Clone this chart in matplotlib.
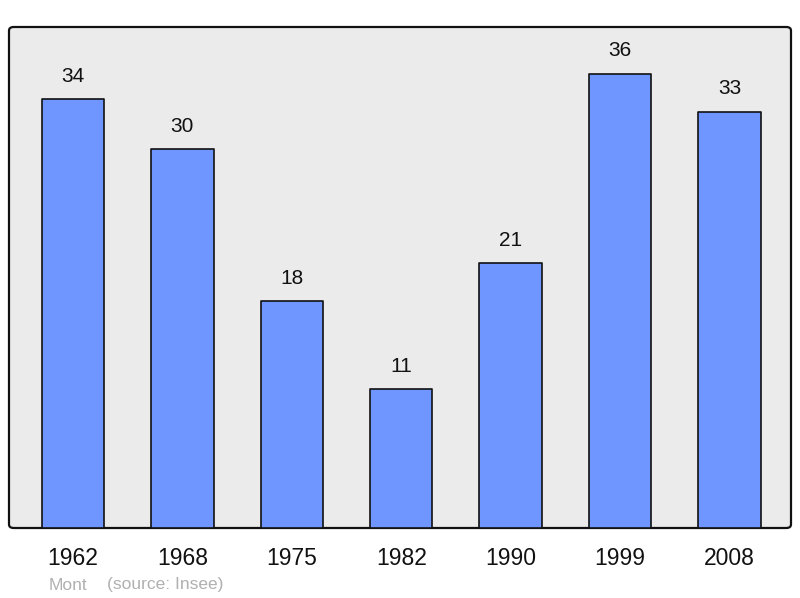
import matplotlib
matplotlib.use("Agg")
import matplotlib.pyplot as plt
from matplotlib.patches import FancyBboxPatch

years = ["1962", "1968", "1975", "1982", "1990", "1999", "2008"]
population = [34, 30, 18, 11, 21, 36, 33]
commune = "Mont"
source = "(source: Insee)"

plt.rcParams['font.family'] = ['Liberation Sans', 'DejaVu Sans']

fig = plt.figure(figsize=(8, 5.98), dpi=100)
L, R = 9 / 800, 791 / 800
B, T = (598 - 528) / 598, (598 - 27) / 598
ax = fig.add_axes([L, B, R - L, T - B])
ax.set_facecolor('none')
ax.set_zorder(2)

# rounded frame
frame = FancyBboxPatch((L, B), R - L, T - B, boxstyle="round,pad=0,rounding_size=0.006",
                       transform=fig.transFigure, facecolor='#ebebeb', edgecolor='#111111',
                       linewidth=1.6, zorder=-1)
fig.patches.append(frame)

x = list(range(len(years)))
bars = ax.bar(x, population, width=0.57, color='#6f96ff', edgecolor='#111111',
              linewidth=1.2, zorder=2)
for b in bars:
    b.set_joinstyle('round')
for xi, v in zip(x, population):
    ax.annotate(str(v), (xi, v), xytext=(0, 9.5), textcoords='offset points',
                ha='center', va='bottom', fontsize=15, color='#111111')

ax.set_xlim(-0.585, 6.562)
ax.set_ylim(0, 39.7)
for s in ax.spines.values():
    s.set_visible(False)
ax.set_yticks([])
ax.set_xticks(x)
ax.set_xticklabels(years, fontsize=16.5, color='#111111')
ax.tick_params(axis='x', length=0, pad=14)

fig.text(49 / 800, 1 - 585 / 598, commune, fontsize=12.5, color='#b0b0b0', va='center', ha='left')
fig.text(107 / 800, 1 - 585 / 598, source, fontsize=12.5, color='#b0b0b0', va='center', ha='left')

fig.savefig("out.png", dpi=100)
